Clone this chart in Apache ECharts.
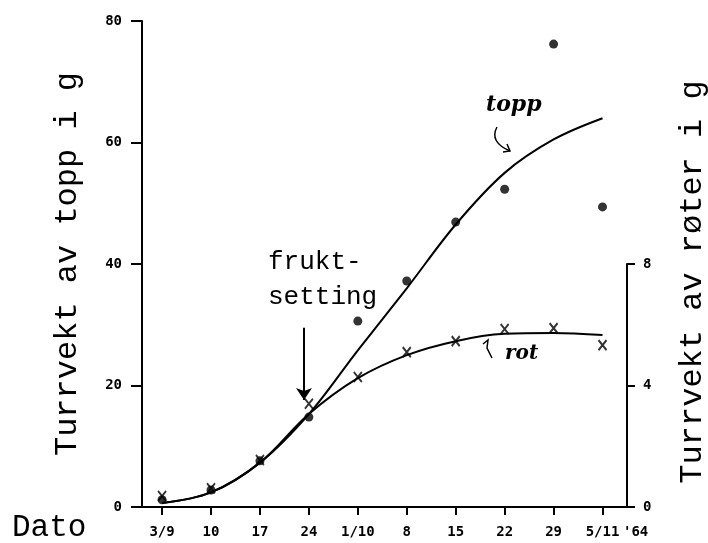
<!DOCTYPE html>
<html>
<head>
<meta charset="utf-8">
<script src="https://cdn.jsdelivr.net/npm/echarts@6/dist/echarts.min.js"></script>
<style>html,body{margin:0;padding:0;background:#fff}#main{width:708px;height:543px}</style>
</head>
<body>
<div id="main"></div>
<script>
// datoer, ei veke mellom kvar (hausten 1964)
var datoer = ['3/9', '10', '17', '24', '1/10', '8', '15', '22', '29', '5/11'];
// målte verdiar: topp (venstre akse) og røter (høgre akse)
var toppMaalt = [1.2, 2.8, 7.6, 14.8, 30.6, 37.2, 46.9, 52.3, 76.2, 49.4];
var rotMaalt  = [0.36, 0.62, 1.55, 3.4, 4.28, 5.1, 5.46, 5.86, 5.89, 5.33];
// handteikna kurver, avlest
var toppKurve = [0.66, 2.4, 7.3, 15.3, 25.8, 36.0, 46.5, 55.0, 60.5, 64.0];
var rotKurve  = [0.13, 0.48, 1.46, 3.06, 4.24, 5.0, 5.46, 5.7, 5.73, 5.66];
var toppTicks = [0, 20, 40, 60, 80];
var rotTicks  = [0, 4, 8];

var idx = datoer.map(function (d, i) { return i; });
function par(arr) { return arr.map(function (v, i) { return [i, v]; }); }

var svart = '#000';
var tal = {color: svart, fontFamily: 'DejaVu Sans Mono', fontWeight: 'bold', fontSize: 14};
var skrift = 'Liberation Mono';

let option = {
    animation: false,
    backgroundColor: '#fff',
    grid: [
        {left: 142, right: 81, top: 21, bottom: 36, outerBoundsMode: 'none'},
        {left: 142, right: 81, top: 264, bottom: 36, outerBoundsMode: 'none'}   // røter: 0-8 svarar til 0-40
    ],
    xAxis: [{
        type: 'value', gridIndex: 0, min: -0.41, max: 9.5,
        axisLine: {onZero: false, lineStyle: {color: svart, width: 2}},
        axisTick: {customValues: idx, length: 8, lineStyle: {color: svart, width: 2}},
        axisLabel: Object.assign({customValues: idx, margin: 18, formatter: function (v) { return datoer[Math.round(v)]; }}, tal),
        splitLine: {show: false}
    }, {
        type: 'value', gridIndex: 1, min: -0.41, max: 9.5, show: false
    }],
    yAxis: [{
        type: 'value', gridIndex: 0, min: toppTicks[0], max: toppTicks[toppTicks.length - 1], interval: 20,
        axisLine: {show: true, onZero: false, lineStyle: {color: svart, width: 2}},
        axisTick: {show: true, length: 11, lineStyle: {color: svart, width: 2}},
        axisLabel: Object.assign({margin: 20}, tal),
        splitLine: {show: false},
        name: 'Turrvekt av topp i g', nameLocation: 'middle', nameRotate: 90, nameGap: 58,
        nameTextStyle: {fontFamily: skrift, fontSize: 32, color: svart}
    }, {
        type: 'value', gridIndex: 1, position: 'right', min: rotTicks[0], max: rotTicks[rotTicks.length - 1], interval: 4,
        axisLine: {show: true, onZero: false, lineStyle: {color: svart, width: 2}},
        axisTick: {show: true, length: 8, lineStyle: {color: svart, width: 2}},
        axisLabel: Object.assign({margin: 16}, tal),
        splitLine: {show: false}
    }],
    series: [{
        name: 'topp kurve', type: 'line', xAxisIndex: 0, yAxisIndex: 0,
        data: par(toppKurve), smooth: 0.35, showSymbol: false,
        lineStyle: {color: svart, width: 2},
        markLine: {
            silent: true, symbol: ['none', 'arrow'], symbolSize: 12,
            lineStyle: {color: svart, width: 2, type: 'solid'},
            label: {show: false},
            data: [[{coord: [2.9, 29.5]}, {coord: [2.9, 17.6]}]]
        }
    }, {
        name: 'topp', type: 'scatter', xAxisIndex: 0, yAxisIndex: 0,
        data: par(toppMaalt), symbol: 'circle', symbolSize: 9,
        itemStyle: {color: svart}
    }, {
        name: 'rot kurve', type: 'line', xAxisIndex: 1, yAxisIndex: 1,
        data: par(rotKurve), smooth: 0.35, showSymbol: false,
        lineStyle: {color: svart, width: 2}
    }, {
        name: 'rot', type: 'scatter', xAxisIndex: 1, yAxisIndex: 1,
        data: par(rotMaalt), symbol: 'path://M0,0 L8,10 M8,0 L0,10', symbolSize: [8, 10],
        itemStyle: {color: 'none', borderColor: svart, borderWidth: 2}
    }],
    graphic: [
        {type: 'text', left: 12, top: 512, style: {text: 'Dato', font: '31px "Liberation Mono"', fill: svart}},
        {type: 'text', left: 268, top: 245, style: {text: 'frukt-\nsetting', font: '26px "Liberation Mono"', lineHeight: 35, fill: svart}},
        {type: 'text', x: 693, y: 282, rotation: Math.PI / 2,
         style: {text: 'Turrvekt av røter i g', font: '32px "Liberation Mono"', fill: svart, textAlign: 'center', textVerticalAlign: 'middle'}},
        {type: 'text', left: 623, top: 525, style: {text: "'64", font: 'bold 14px "DejaVu Sans Mono"', fill: svart}},
        {type: 'text', left: 486, top: 94, style: {text: 'topp', font: 'italic bold 22px "DejaVu Serif"', fill: svart}},
        {type: 'bezierCurve', shape: {x1: 497, y1: 127, cpx1: 489, cpy1: 142, x2: 510, y2: 151}, style: {stroke: svart, lineWidth: 1.5, fill: 'none'}},
        {type: 'polyline', shape: {points: [[503, 152], [510, 151], [507, 144]]}, style: {stroke: svart, lineWidth: 1.5, fill: 'none'}},
        {type: 'polyline', shape: {points: [[483, 344], [488, 340], [487, 348], [492, 358]]}, style: {stroke: svart, lineWidth: 1.5, fill: 'none'}},
        {type: 'text', left: 505, top: 344, style: {text: 'rot', font: 'italic bold 20px "DejaVu Serif"', fill: svart}}
    ]
};

var chart = echarts.init(document.getElementById('main'));
chart.setOption(option);
window.onresize = function () {
    chart.resize();
};
</script>
</body>
</html>
